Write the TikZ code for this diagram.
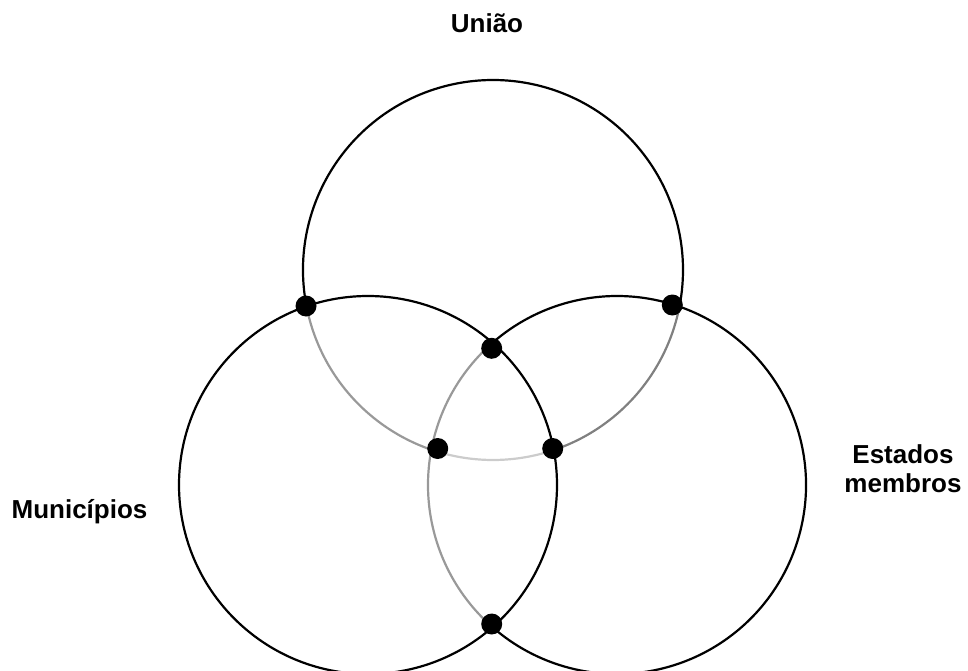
\documentclass[tikz,border=0pt]{standalone}
\usepackage{fontspec}
\setmainfont{Liberation Sans}
\begin{document}
\begin{tikzpicture}[x=1pt,y=-1pt,
  ring/.style={line width=2.2pt},
  dot/.style={circle,fill=black,inner sep=0pt,minimum size=21pt},
  lbl/.style={font=\bfseries\fontsize{26}{29}\selectfont,inner sep=0pt,align=center}]
\useasboundingbox (0,0) rectangle (968,671);
% centres
\coordinate (T) at (493,270);
\coordinate (L) at (368,485);
\coordinate (R) at (617,485);
% left circle (all black)
\draw[ring] (L) circle[radius=189];
% right circle
\draw[ring] (R) ++(-72.9:189) arc[start angle=-72.9,end angle=132,radius=189];
\draw[ring,black!40] (R) ++(132:189) arc[start angle=132,end angle=227.5,radius=189];
\draw[ring] (R) ++(227.5:189) arc[start angle=227.5,end angle=287.1,radius=189];
% top circle
\draw[ring] (T) ++(169.1:190) arc[start angle=169.1,end angle=371,radius=190];
\draw[ring,black!40] (T) ++(107.2:190) arc[start angle=107.2,end angle=169.1,radius=190];
\draw[ring,black!20] (T) ++(71.5:190) arc[start angle=71.5,end angle=107.2,radius=190];
\draw[ring,black!50] (T) ++(11:190) arc[start angle=11,end angle=71.5,radius=190];
% dots
\node[dot] (d1) at (306,306) {};
\node[dot] (d2) at (672.3,305) {};
\node[dot] (d3) at (491.7,348.3) {};
\node[dot] (d4) at (437.7,448.5) {};
\node[dot] (d5) at (552.7,448.5) {};
\node[dot] (d6) at (491.7,624) {};
% labels
\node[lbl,anchor=base] (uniao) at (487,33) {União};
\node[lbl,anchor=base] (mun) at (79.5,518) {Municípios};
\node[lbl,anchor=north] (est) at (903,444.5) {Estados\\membros};
\end{tikzpicture}
\end{document}
